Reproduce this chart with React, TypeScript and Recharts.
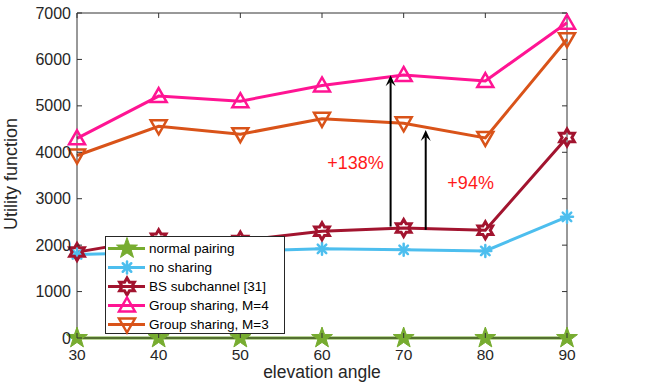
import React from 'react';
import { Legend, Line, LineChart, ReferenceDot, ReferenceLine, XAxis, YAxis } from 'recharts';

const angles = [30, 40, 50, 60, 70, 80, 90];
const normalPairing = [0, 0, 0, 0, 0, 0, 0];
const noSharing = [1800, 1840, 1870, 1920, 1900, 1875, 2610];
const bsSubchannel = [1850, 2150, 2100, 2300, 2370, 2320, 4320];
const groupM4 = [4300, 5210, 5100, 5440, 5665, 5535, 6790];
const groupM3 = [3930, 4560, 4390, 4720, 4625, 4310, 6435];
const yTicks = [0, 1000, 2000, 3000, 4000, 5000, 6000, 7000];

const data = angles.map((angle, i) => ({
  angle,
  normal: normalPairing[i],
  noShare: noSharing[i],
  bs: bsSubchannel[i],
  m4: groupM4[i],
  m3: groupM3[i],
}));

const series = [
  { key: 'normal', name: 'normal pairing', color: '#77AC30', marker: 'pentagram' },
  { key: 'noShare', name: 'no sharing', color: '#4DBEEE', marker: 'asterisk' },
  { key: 'bs', name: 'BS subchannel [31]', color: '#A2142F', marker: 'hexagram' },
  { key: 'm4', name: 'Group sharing, M=4', color: '#FF1493', marker: 'up' },
  { key: 'm3', name: 'Group sharing, M=3', color: '#D95319', marker: 'down' },
];

const FONT = '"Liberation Sans", Arial, Helvetica, sans-serif';
const AXIS = '#333333';
const TEXT = '#262626';

const star = (cx: number, cy: number, n: number, R: number, r: number) => {
  const pts: string[] = [];
  for (let i = 0; i < n * 2; i++) {
    const rad = i % 2 === 0 ? R : r;
    const a = -Math.PI / 2 + (i * Math.PI) / n;
    pts.push(`${cx + rad * Math.cos(a)},${cy + rad * Math.sin(a)}`);
  }
  return pts.join(' ');
};

const Marker = ({ kind, cx, cy, color }: any) => {
  if (cx == null || cy == null) return null;
  switch (kind) {
    case 'pentagram':
      return <polygon points={star(cx, cy, 5, 11, 4.4)} fill={color} stroke={color} strokeWidth={1} />;
    case 'hexagram':
      return <polygon points={star(cx, cy, 6, 8.5, 4.9)} fill="none" stroke={color} strokeWidth={3} />;
    case 'asterisk':
      return (
        <g stroke={color} strokeWidth={2.5} strokeLinecap="round">
          {[0, 45, 90, 135].map((d) => {
            const a = (d * Math.PI) / 180;
            const dx = 6 * Math.cos(a);
            const dy = 6 * Math.sin(a);
            return <line key={d} x1={cx - dx} y1={cy - dy} x2={cx + dx} y2={cy + dy} />;
          })}
        </g>
      );
    case 'up':
      return <polygon points={`${cx},${cy - 8} ${cx + 8},${cy + 6} ${cx - 8},${cy + 6}`} fill="none" stroke={color} strokeWidth={2.5} />;
    case 'down':
      return <polygon points={`${cx},${cy + 8} ${cx + 8},${cy - 6} ${cx - 8},${cy - 6}`} fill="none" stroke={color} strokeWidth={2.5} />;
    default:
      return null;
  }
};

const BottomTick = ({ x, y, payload }: any) => (
  <g>
    <line x1={x} x2={x} y1={y} y2={y - 5} stroke={AXIS} />
    <text x={x} y={y + 16} textAnchor="middle" dominantBaseline="central" fontSize={15.5} fill={TEXT} fontFamily={FONT}>
      {payload.value}
    </text>
  </g>
);

const LeftTick = ({ x, y, payload }: any) => (
  <g>
    <line x1={x} x2={x + 5} y1={y} y2={y} stroke={AXIS} />
    <text x={x - 6} y={y} textAnchor="end" dominantBaseline="central" fontSize={16} fill={TEXT} fontFamily={FONT}>
      {payload.value}
    </text>
  </g>
);

// short inward tick at the top end of a vertical reference line
const TopTick = ({ x1, y1, y2 }: any) => {
  const top = Math.min(y1, y2);
  return <line x1={x1} x2={x1} y1={top} y2={top + 5} stroke={AXIS} />;
};
// short inward tick at the right end of a horizontal reference line
const RightTick = ({ x1, x2, y1 }: any) => {
  const right = Math.max(x1, x2);
  return <line x1={right} x2={right - 5} y1={y1} y2={y1} stroke={AXIS} />;
};

const Arrow = ({ x1, y1, x2, y2 }: any) => {
  const len = Math.hypot(x2 - x1, y2 - y1) || 1;
  const ux = (x2 - x1) / len;
  const uy = (y2 - y1) / len;
  const px = -uy;
  const py = ux;
  const L = 11;
  const W = 5;
  const bx = x2 - ux * L;
  const by = y2 - uy * L;
  const nx = x2 - ux * L * 0.6;
  const ny = y2 - uy * L * 0.6;
  return (
    <g>
      <line x1={x1} y1={y1} x2={nx} y2={ny} stroke="#000" strokeWidth={2} />
      <path
        d={`M${x2},${y2} L${bx + px * W},${by + py * W} L${nx},${ny} L${bx - px * W},${by - py * W} Z`}
        fill="#000"
      />
    </g>
  );
};

const Note = ({ cx, cy, text }: any) => (
  <text x={cx} y={cy} textAnchor="middle" dominantBaseline="central" fontSize={18} fill="#FF1A1A" fontFamily={FONT}>
    {text}
  </text>
);

const LegendBox = () => (
  <div
    style={{
      boxSizing: 'border-box',
      width: 180,
      height: 98,
      border: '1px solid #262626',
      background: '#fff',
      paddingTop: 1.5,
      fontFamily: FONT,
      fontSize: 13.5,
      color: '#000',
    }}
  >
    {series.map((s) => (
      <div key={s.key} style={{ display: 'flex', alignItems: 'center', height: 19 }}>
        <svg width={42} height={19} style={{ overflow: 'visible', flex: 'none' }}>
          <line x1={2} x2={39} y1={9.5} y2={9.5} stroke={s.color} strokeWidth={3} />
          <Marker kind={s.marker} cx={21} cy={9.5} color={s.color} />
        </svg>
        <span style={{ marginLeft: 1, whiteSpace: 'nowrap' }}>{s.name}</span>
      </div>
    ))}
  </div>
);

export default function App() {
  return (
    <div style={{ position: 'absolute', left: 0, top: 0, background: '#fff' }}>
      <LineChart width={649} height={383} data={data} margin={{ top: 13, right: 82, bottom: 44, left: 76 }}>
        <XAxis
          dataKey="angle"
          type="number"
          domain={[30, 90]}
          ticks={angles}
          height={1}
          tickSize={0}
          tickMargin={0}
          tickLine={false}
          axisLine={{ stroke: AXIS }}
          tick={BottomTick}
          label={(p: any) => (
            <text
              x={p.viewBox.x + p.viewBox.width / 2}
              y={p.viewBox.y + 40}
              textAnchor="middle"
              fontSize={17.5}
              fill={TEXT}
              fontFamily={FONT}
            >
              elevation angle
            </text>
          )}
        />
        <YAxis
          type="number"
          domain={[0, 7000]}
          ticks={yTicks}
          width={1}
          tickSize={0}
          tickMargin={0}
          tickLine={false}
          axisLine={{ stroke: AXIS }}
          tick={LeftTick}
          label={(p: any) => (
            <text
              transform={`translate(17,${p.viewBox.y + p.viewBox.height / 2 - 1.5}) rotate(-90)`}
              textAnchor="middle"
              fontSize={18}
              fill={TEXT}
              fontFamily={FONT}
            >
              Utility function
            </text>
          )}
        />
        <ReferenceLine y={7000} stroke={AXIS} />
        <ReferenceLine x={90} stroke={AXIS} />
        {angles.map((a) => (
          <ReferenceLine key={`tt-${a}`} x={a} shape={TopTick} />
        ))}
        {yTicks.map((v) => (
          <ReferenceLine key={`rt-${v}`} y={v} shape={RightTick} />
        ))}
        {series.map((s) => (
          <Line
            key={s.key}
            dataKey={s.key}
            name={s.name}
            stroke={s.color}
            strokeWidth={3}
            isAnimationActive={false}
            dot={(p: any) => <Marker key={`${s.key}-${p.index}`} kind={s.marker} cx={p.cx} cy={p.cy} color={s.color} />}
            activeDot={false}
          />
        ))}
        <ReferenceLine segment={[{ x: 68.4, y: 2400 }, { x: 68.4, y: 5660 }]} shape={Arrow} />
        <ReferenceLine segment={[{ x: 72.7, y: 2330 }, { x: 72.7, y: 4480 }]} shape={Arrow} />
        <ReferenceDot x={64.1} y={3770} r={0} shape={(p: any) => <Note cx={p.cx} cy={p.cy} text="+138%" />} />
        <ReferenceDot x={78.2} y={3340} r={0} shape={(p: any) => <Note cx={p.cx} cy={p.cy} text="+94%" />} />
        <Legend
          layout="vertical"
          align="center"
          verticalAlign="middle"
          wrapperStyle={{ left: 105, top: 236, width: 180, height: 98 }}
          content={() => <LegendBox />}
        />
      </LineChart>
    </div>
  );
}
